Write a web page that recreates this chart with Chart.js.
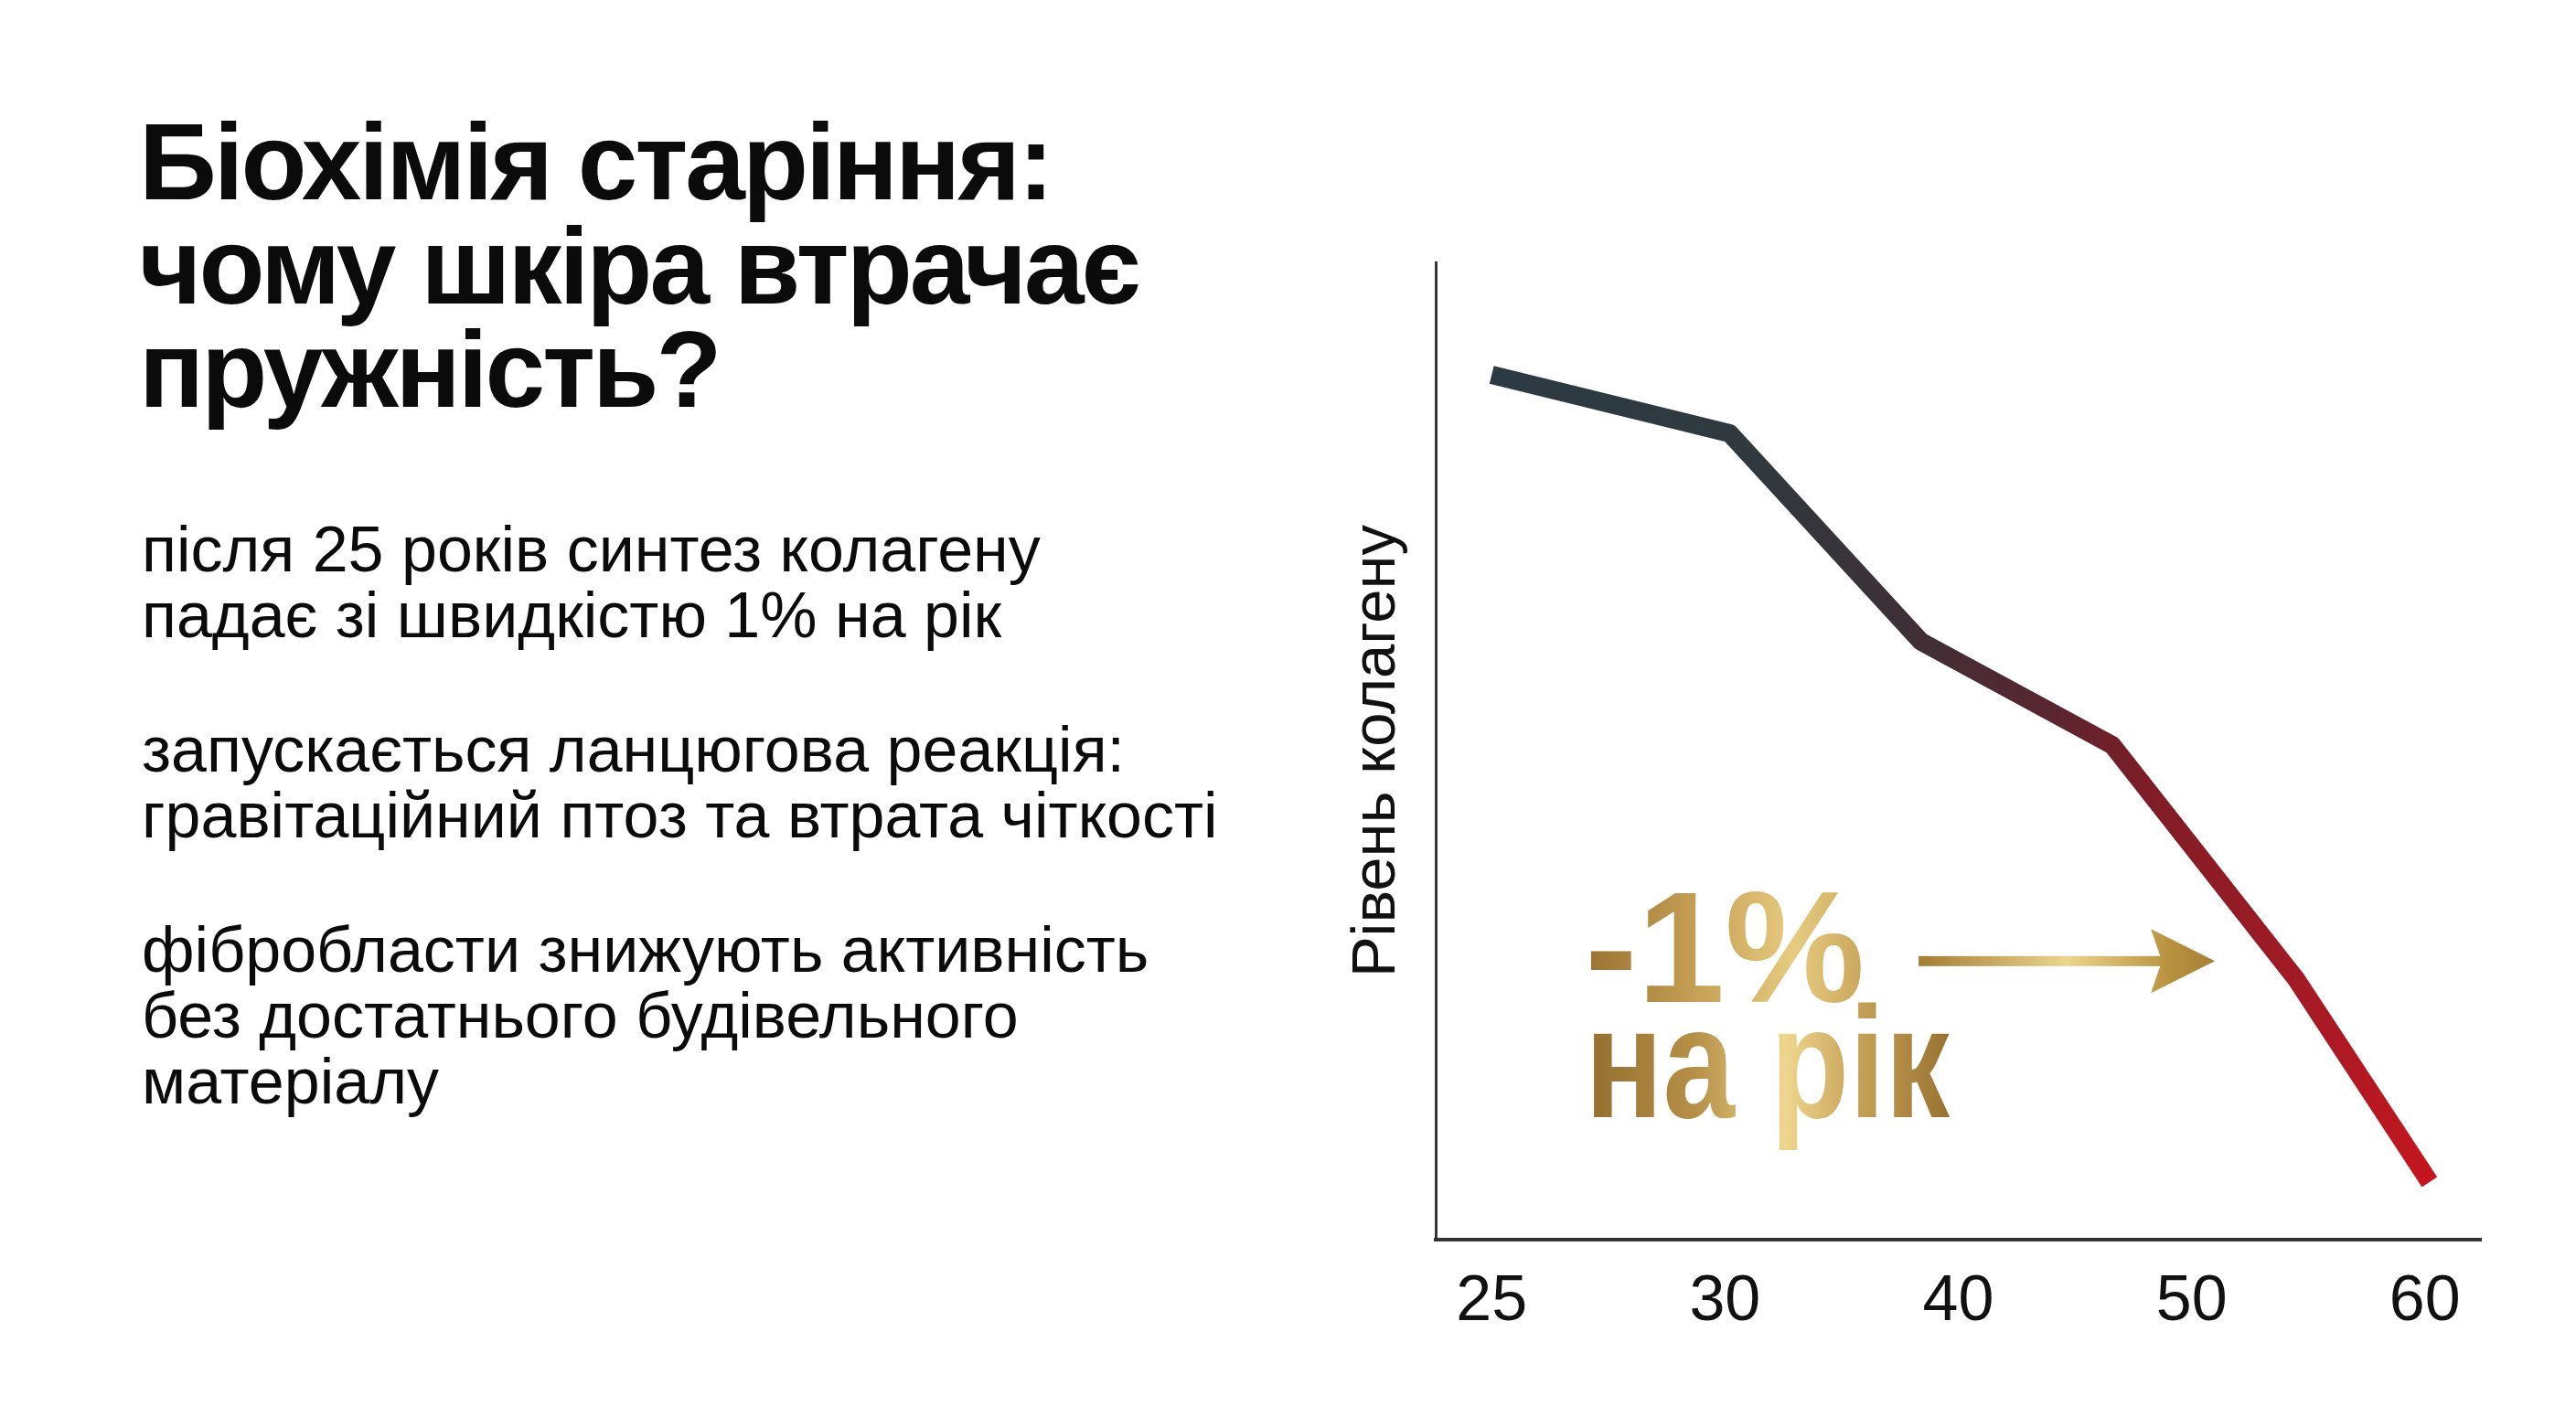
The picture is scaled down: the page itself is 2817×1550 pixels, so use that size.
<!DOCTYPE html>
<html lang="uk">
<head>
<meta charset="utf-8">
<title>Біохімія старіння</title>
<script src="https://cdn.jsdelivr.net/npm/chart.js@4.4.1/dist/chart.umd.min.js"></script>
<style>
  html, body { margin: 0; padding: 0; background: #ffffff; }
  body {
    width: 2817px; height: 1550px; position: relative; overflow: hidden;
    font-family: "Liberation Sans", Arial, sans-serif; color: #0b0b0b;
  }
  #title {
    position: absolute; left: 152px; top: 121px; margin: 0;
    font-size: 118px; font-weight: 700; line-height: 113.5px; letter-spacing: -3px;
  }
  #notes { position: absolute; left: 155px; top: 565px; font-size: 70px; line-height: 72px; }
  #notes p { margin: 0 0 75px 0; }
  #wrap { position: absolute; left: 1400px; top: 200px; width: 1417px; height: 1350px; }
</style>
</head>
<body>
<h1 id="title">Біохімія старіння:<br>чому шкіра втрачає<br>пружність?</h1>
<div id="notes">
  <p>після 25 років синтез колагену<br>падає зі швидкістю 1% на рік</p>
  <p>запускається ланцюгова реакція:<br>гравітаційний птоз та втрата чіткості</p>
  <p>фібробласти знижують активність<br>без достатнього будівельного<br>матеріалу</p>
</div>
<div id="wrap"><canvas id="chart" width="1417" height="1350"></canvas></div>

<script>
// age ticks are evenly spaced, so points sit on the tick-index scale
const ageLabels = ['25', '30', '40', '50', '60'];
const pointPos = [0, 1.02, 1.84, 2.66, 3.45, 4.02];
const collagen = [88.5, 82.5, 61.2, 50.6, 26.6, 5.9];
const axisTitle = 'Рівень колагену';
const badgeLines = ['-1%', 'на рік'];

const FONT = '"Liberation Sans", Arial, sans-serif';
Chart.defaults.font.family = FONT;

function lineGradient(context) {
  const chart = context.chart;
  const x = chart.scales.x;
  if (!chart.chartArea || !x) return '#3a3a40';
  const x0 = x.getPixelForValue(pointPos[0]);
  const x1 = x.getPixelForValue(pointPos[pointPos.length - 1]);
  if (!isFinite(x0) || !isFinite(x1)) return '#3a3a40';
  const g = chart.ctx.createLinearGradient(x0, 0, x1, 0);
  g.addColorStop(0, '#2c3a43');
  g.addColorStop(0.28, '#30393f');
  g.addColorStop(0.45, '#3f2f36');
  g.addColorStop(0.6, '#5a2630');
  g.addColorStop(0.7, '#7e1d26');
  g.addColorStop(0.85, '#a01b25');
  g.addColorStop(1, '#c4161f');
  return g;
}

function goldGradient(ctx, x0, x1, stops) {
  const g = ctx.createLinearGradient(x0, 0, x1, 0);
  stops.forEach(s => g.addColorStop(s[0], s[1]));
  return g;
}

// gold "-1% на рік" label with arrow
const goldBadge = {
  id: 'goldBadge',
  afterDatasetsDraw(chart) {
    const { ctx, scales: { x, y } } = chart;
    const left = x.getPixelForValue(0.40);
    const base1 = y.getPixelForValue(24.3);
    const base2 = y.getPixelForValue(12.5);

    ctx.save();
    ctx.font = 'bold 172px ' + FONT;
    ctx.textBaseline = 'alphabetic';

    const w1 = ctx.measureText(badgeLines[0]).width;
    ctx.fillStyle = goldGradient(ctx, left, left + w1, [
      [0, '#9a7233'], [0.35, '#c09a50'], [0.75, '#e6cb80'], [1, '#c9a65c']
    ]);
    ctx.fillText(badgeLines[0], left, base1);

    ctx.save();
    ctx.translate(left, base2);
    ctx.scale(0.82, 1);
    const w2 = ctx.measureText(badgeLines[1]).width;
    ctx.fillStyle = goldGradient(ctx, 0, w2, [
      [0, '#936e2e'], [0.3, '#b68f47'], [0.55, '#efd68e'], [0.75, '#c6a157'], [1, '#997232']
    ]);
    ctx.fillText(badgeLines[1], 0, 0);
    ctx.restore();

    // arrow
    const ay = y.getPixelForValue(28.5);
    const ax0 = x.getPixelForValue(1.83);
    const tip = x.getPixelForValue(3.10);
    const headLen = 70, headHalf = 35, notch = 12, shaft = 11;
    ctx.fillStyle = goldGradient(ctx, ax0, tip, [
      [0, '#a47c36'], [0.5, '#ecd48c'], [0.85, '#b8913f'], [1, '#a87f38']
    ]);
    ctx.fillRect(ax0, ay - shaft / 2, tip - headLen - ax0 + notch + 2, shaft);
    ctx.beginPath();
    ctx.moveTo(tip, ay);
    ctx.lineTo(tip - headLen, ay - headHalf);
    ctx.lineTo(tip - headLen + notch, ay);
    ctx.lineTo(tip - headLen, ay + headHalf);
    ctx.closePath();
    ctx.fill();
    ctx.restore();
  }
};

new Chart(document.getElementById('chart'), {
  type: 'line',
  data: {
    datasets: [{
      data: pointPos.map((p, i) => ({ x: p, y: collagen[i] })),
      borderColor: lineGradient,
      borderWidth: 20,
      borderCapStyle: 'butt',
      borderJoinStyle: 'round',
      pointRadius: 0,
      tension: 0,
      fill: false
    }]
  },
  options: {
    responsive: false,
    animation: false,
    devicePixelRatio: 1,
    layout: { padding: { top: 87, right: 104, bottom: 74, left: 0 } },
    plugins: { legend: { display: false }, tooltip: { enabled: false } },
    scales: {
      x: {
        type: 'linear',
        min: -0.24,
        max: 4.24,
        grid: { display: false, drawTicks: false },
        border: { display: true, color: '#333333', width: 4 },
        afterBuildTicks: s => { s.ticks = ageLabels.map((_, i) => ({ value: i })); },
        ticks: {
          callback: v => ageLabels[v],
          color: '#111111',
          font: { size: 70 },
          padding: 27,
          maxRotation: 0,
          autoSkip: false
        },
        afterFit: s => { s.height = 120; }
      },
      y: {
        min: 0,
        max: 100,
        grid: { display: false, drawTicks: false },
        border: { display: true, color: '#333333', width: 3 },
        ticks: { display: false },
        title: {
          display: true,
          text: axisTitle,
          color: '#111111',
          font: { size: 67 },
          padding: { top: 66, bottom: 0 }
        },
        afterFit: s => { s.width = 170; }
      }
    }
  },
  plugins: [goldBadge]
});
</script>
</body>
</html>
